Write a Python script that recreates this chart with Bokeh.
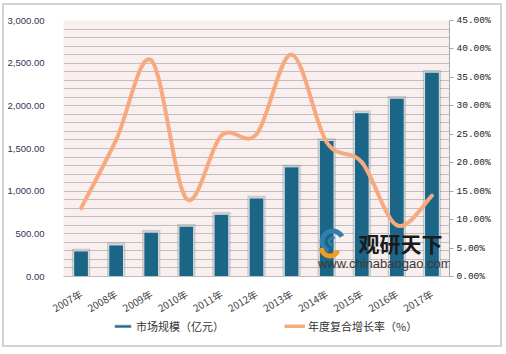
import numpy as np
from bokeh.plotting import figure
from bokeh.layouts import column
from bokeh.models import (Range1d, LinearAxis, FixedTicker, NumeralTickFormatter,
                          PrintfTickFormatter, Legend, LegendItem, Label)
from bokeh.embed import file_html
from bokeh.resources import INLINE

# ---- data ----
years = ["2007年", "2008年", "2009年", "2010年", "2011年", "2012年",
         "2013年", "2014年", "2015年", "2016年", "2017年"]
market = [300, 370, 520, 590, 730, 920, 1285, 1595, 1920, 2090, 2395]   # 亿元
growth = [12.0, 24.0, 38.0, 13.7, 24.8, 25.0, 39.0, 23.6, 20.1, 9.0, 14.2]  # %
left_ticks = [0, 500, 1000, 1500, 2000, 2500, 3000]
right_ticks = [0, 5, 10, 15, 20, 25, 30, 35, 40, 45]
grid_ticks = list(range(0, 3001, 100))
series_names = ["市场规模（亿元）", "年度复合增长率（%）"]

BAR = "#1b6587"
BAR_EDGE = "#d8e2e8"
LINE = "#f7aa7f"

x = np.arange(len(years), dtype=float)

p = figure(width=496, height=319, x_range=Range1d(-0.5, 10.5), y_range=Range1d(0, 3000),
           output_backend="svg", toolbar_location=None,
           min_border_left=55, min_border_right=51, min_border_top=15, min_border_bottom=48,
           background_fill_color="#f9efef", border_fill_color="white", outline_line_color=None)
p.extra_y_ranges = {"pct": Range1d(0, 45)}

# grid
p.xgrid.visible = False
p.ygrid.ticker = FixedTicker(ticks=grid_ticks)
p.ygrid.grid_line_color = "#bfbfbf"
p.ygrid.grid_line_width = 1.2

# left axis
ya = p.yaxis[0]
ya.ticker = FixedTicker(ticks=left_ticks)
ya.formatter = NumeralTickFormatter(format="0,0.00")
ya.axis_line_color = None
ya.major_tick_line_color = None
ya.minor_tick_line_color = None
ya.major_label_standoff = 13
ya.major_label_text_font = "Liberation Sans"
ya.major_label_text_font_size = "9.5px"
ya.major_label_text_color = "#33335a"

# right axis
ra = LinearAxis(y_range_name="pct", ticker=FixedTicker(ticks=right_ticks),
                formatter=PrintfTickFormatter(format="%.2f%%"))
ra.axis_line_color = "#a8a8a8"
ra.major_tick_line_color = "#a8a8a8"
ra.major_tick_out = 4
ra.major_tick_in = 0
ra.minor_tick_line_color = None
ra.major_label_standoff = 3
ra.major_label_text_font = "Liberation Mono"
ra.major_label_text_font_size = "9.5px"
ra.major_label_text_color = "#222222"
p.add_layout(ra, "right")

# bottom axis
xa = p.xaxis[0]
xa.ticker = FixedTicker(ticks=list(x))
xa.major_label_overrides = {i: y for i, y in enumerate(years)}
xa.major_label_orientation = np.pi / 6
xa.axis_line_color = "#bdbdbd"
xa.major_tick_line_color = None
xa.minor_tick_line_color = None
xa.major_label_standoff = 10
xa.major_label_text_font = "Noto Sans CJK SC"
xa.major_label_text_font_size = "10px"
xa.major_label_text_color = "#444444"

# bars (with soft shadow)
p.vbar(x=x, top=np.array(market) + 25, width=0.52, fill_color="#7a7a7a", fill_alpha=0.35,
       line_color=None)
p.vbar(x=x, top=market, width=0.42, fill_color=BAR, line_color=BAR_EDGE, line_width=1)

# smoothed line (Catmull-Rom -> cubic Bezier)
gy = np.array(growth)
xp = np.concatenate([[x[0]], x, [x[-1]]])
yp = np.concatenate([[gy[0]], gy, [gy[-1]]])
n = len(x)
x0 = x[:-1]; y0 = gy[:-1]; x1 = x[1:]; y1 = gy[1:]
cx0 = x0 + (xp[2:n + 1] - xp[0:n - 1]) / 6.0
cy0 = y0 + (yp[2:n + 1] - yp[0:n - 1]) / 6.0
cx1 = x1 - (xp[3:n + 2] - xp[1:n]) / 6.0
cy1 = y1 - (yp[3:n + 2] - yp[1:n]) / 6.0
p.bezier(x0=x0, y0=y0, x1=x1, y1=y1, cx0=cx0, cy0=cy0, cx1=cx1, cy1=cy1,
         line_color=LINE, line_width=4, line_cap="round", y_range_name="pct")

# watermark
p.annular_wedge(x=[7.17], y=[410], inner_radius=8, outer_radius=13, inner_radius_units="screen",
                outer_radius_units="screen", start_angle=0.5, end_angle=4.3,
                fill_color="#2f7fae", line_color=None)
p.annular_wedge(x=[7.17], y=[410], inner_radius=2, outer_radius=5, inner_radius_units="screen",
                outer_radius_units="screen", start_angle=1.0, end_angle=5.0,
                fill_color="#2f7fae", line_color=None)
p.annular_wedge(x=[7.09], y=[340], inner_radius=6, outer_radius=11, inner_radius_units="screen",
                outer_radius_units="screen", start_angle=3.2, end_angle=5.9,
                fill_color="#f59a1c", line_color=None)
p.add_layout(Label(x=7.91, y=387, text="观研天下", text_font="Noto Sans CJK SC",
                   text_font_style="bold", text_font_size="21px", text_color="#1a1a1a",
                   text_baseline="middle"))
p.add_layout(Label(x=6.75, y=150, text="www.chinabaogao.com", text_font="Liberation Sans",
                   text_font_size="13px", text_color="#3a3a3a", text_baseline="middle"))

# legend strip below the chart
lg = figure(width=496, height=29, x_range=Range1d(0, 1), y_range=Range1d(0, 1),
            output_backend="svg", toolbar_location=None,
            x_axis_location=None, y_axis_location=None,
            min_border_left=0, min_border_right=0, min_border_top=0, min_border_bottom=0,
            background_fill_alpha=0, border_fill_alpha=0, outline_line_color=None)
lg.styles = {"margin-top": "-8px"}
lg.xgrid.visible = False
lg.ygrid.visible = False
bar_proxy = lg.vbar(x=[np.nan], top=[np.nan], width=0.42, fill_color=BAR,
                    line_color=BAR_EDGE, line_width=1)
line_proxy = lg.line(x=[np.nan], y=[np.nan], line_color=LINE, line_width=4)
legend = Legend(items=[LegendItem(label=series_names[0], renderers=[bar_proxy]),
                       LegendItem(label=series_names[1], renderers=[line_proxy])],
                orientation="horizontal", location=(49, 11), spacing=60,
                glyph_width=21, glyph_height=4, label_standoff=3, label_height=14,
                label_text_font="Noto Sans CJK SC", label_text_font_size="11px",
                label_text_color="#333333", padding=0, margin=0,
                border_line_color=None, background_fill_alpha=0)
lg.add_layout(legend, "center")

layout = column(p, lg, spacing=0,
                styles={"margin-left": "2px", "margin-top": "3px",
                        "border": "2px solid #d3d3d3"})

open("out.html", "w").write(file_html(layout, INLINE))
